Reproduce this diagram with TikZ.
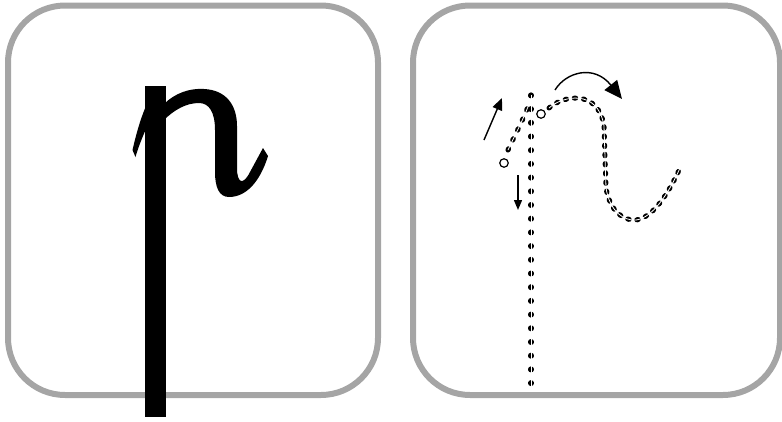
\documentclass[tikz,border=0pt]{standalone}
\usetikzlibrary{arrows.meta}
\definecolor{boxgray}{HTML}{A5A5A5}
\tikzset{
  panel/.style={draw=boxgray, line width=6pt, rounded corners=57pt},
  glyph/.style={fill=black, draw=none},
  dotstem/.style={line width=5.2pt, line cap=round, dash pattern=on 0.8pt off 12.9pt},
  dotcurve/.style={line width=5pt, line cap=round, dash pattern=on 1.5pt off 7.7pt},
  dotsplit/.style={draw=white, line width=0.8pt},
  startmark/.style={circle, draw=black, line width=1.2pt, fill=white, inner sep=0pt, minimum size=8.5pt},
  guide/.style={line width=1.4pt, -{Triangle[length=12pt,width=10pt]}},
  bigguide/.style={line width=1.4pt, -{Triangle[length=18pt,width=16pt]}}
}
\begin{document}
\begin{tikzpicture}[x=1pt,y=-1pt]
\useasboundingbox (0,0) rectangle (782,421);
% panels
\draw[panel] (8,5.5) rectangle (378,395);
\draw[panel] (413,5.5) rectangle (780,395);
% left glyph
\fill[glyph] (145,86) rectangle (165.5,417);
\fill[glyph] (146,106) .. controls (140,120) and (136,135) .. (132.5,150) -- (135.5,157) .. controls (138,148) and (142,138) .. (146,129) -- cycle;
\fill[glyph] (164,104) .. controls (175,93) and (190,88) .. (204,89) .. controls (226,90) and (237,105) .. (237,126) -- (237,168) .. controls (237,183) and (243,186) .. (250,172) -- (263,148) -- (268,156) .. controls (260,182) and (246,197) .. (229,197) .. controls (219,197) and (215,187) .. (215,172) -- (215,130) .. controls (215,112) and (209,103) .. (199,103) .. controls (186,103) and (174,110) .. (164,120) -- cycle;
% right panel tracing
\coordinate (stemtop) at (531,95);
\coordinate (stembot) at (531,388);
\draw[dotstem] (stemtop) -- (stembot);
\draw[dotsplit] (stemtop) -- (stembot);
% stroke 1
\node[startmark] (s1) at (504,163) {};
\draw[dotcurve, dash pattern=on 1.5pt off 9.5pt] (508,150) .. controls (515,135) and (524,118) .. (529,104);
\draw[dotsplit] (508,150) .. controls (515,135) and (524,118) .. (529,104);
% stroke 2
\node[startmark] (s2) at (541,114) {};
\coordinate (c1) at (549,108);
\coordinate (c2) at (604,126);
\coordinate (c3) at (606,188);
\coordinate (c4) at (680,168);
\draw[dotcurve] (c1) .. controls (562,96) and (598,88) .. (c2) -- (c3) .. controls (610,212) and (624,221) .. (636,220) .. controls (652,218) and (668,195) .. (c4);
\draw[dotsplit] (c1) .. controls (562,96) and (598,88) .. (c2) -- (c3) .. controls (610,212) and (624,221) .. (636,220) .. controls (652,218) and (668,195) .. (c4);
% guide arrows
\coordinate (a1s) at (484,140);
\coordinate (a1e) at (502,98);
\draw[guide] (a1s) -- (a1e);
\coordinate (a2s) at (518,175);
\coordinate (a2e) at (518,210);
\draw[guide, -{Triangle[length=10pt,width=8pt]}] (a2s) -- (a2e);
\coordinate (a3s) at (555,90);
\coordinate (a3e) at (622,99);
\draw[bigguide] (a3s) .. controls (566,72) and (594,64) .. (a3e);
\end{tikzpicture}
\end{document}
